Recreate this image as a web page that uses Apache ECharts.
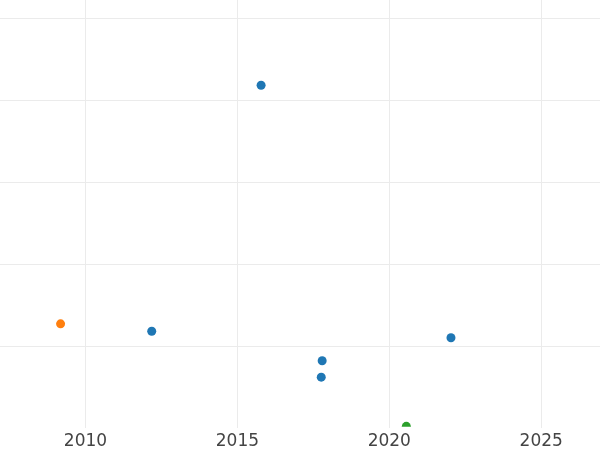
<!DOCTYPE html>
<html>
<head>
<meta charset="utf-8">
<script src="https://cdn.jsdelivr.net/npm/echarts@6/dist/echarts.min.js"></script>
<style>
  html, body { margin: 0; padding: 0; background: #fff; }
  #chart { width: 600px; height: 450px; }
</style>
</head>
<body>
<div id="chart"></div>
<script>
// values: [year, value]
const blueYears = [2012.18, 2015.78, 2017.79, 2017.76, 2022.03];
const blueValues = [1.18, 4.18, 0.82, 0.62, 1.10];
const orangeYears = [2009.18];
const orangeValues = [1.27];
const greenYears = [2020.56];
const greenValues = [0.02];

const xTicks = [2010, 2015, 2020, 2025];
const yTicks = [1, 2, 3, 4, 5];

const pairs = (xs, ys) => xs.map((x, i) => [x, ys[i]]);

const chart = echarts.init(document.getElementById('chart'));

const option = {
    animation: false,
    backgroundColor: '#fff',
    grid: {
        left: 0,
        right: 0,
        top: 0,
        bottom: 22
    },
    xAxis: {
        type: 'value',
        min: 2007.186,
        max: 2026.935,
        z: 200,
        axisLine: { show: false },
        axisTick: { show: false, customValues: xTicks },
        axisLabel: {
            customValues: xTicks,
            formatter: v => String(v),
            color: '#444',
            fontFamily: 'DejaVu Sans',
            fontSize: 17,
            margin: 5
        },
        splitLine: {
            show: true,
            lineStyle: { color: '#ebebeb', width: 1 }
        }
    },
    yAxis: {
        type: 'value',
        min: 0,
        max: 428 / 82,
        axisLine: { show: false },
        axisTick: { show: false, customValues: yTicks },
        axisLabel: { show: false, customValues: yTicks },
        splitLine: {
            show: true,
            lineStyle: { color: '#ebebeb', width: 1 }
        }
    },
    graphic: [{
        // white strip below the plot area, clips the bottom point like the reference
        type: 'rect',
        left: 0,
        bottom: 0,
        z: 100,
        shape: { width: 600, height: 23.3 },
        style: { fill: '#fff' }
    }],
    series: [
        {
            type: 'scatter',
            symbolSize: 9,
            itemStyle: { color: '#1f77b4', opacity: 1 },
            data: pairs(blueYears, blueValues)
        },
        {
            type: 'scatter',
            symbolSize: 9,
            itemStyle: { color: '#ff7f0e', opacity: 1 },
            data: pairs(orangeYears, orangeValues)
        },
        {
            type: 'scatter',
            symbolSize: 9,
            itemStyle: { color: '#2ca02c', opacity: 1 },
            data: pairs(greenYears, greenValues)
        }
    ]
};

chart.setOption(option);
</script>
</body>
</html>
